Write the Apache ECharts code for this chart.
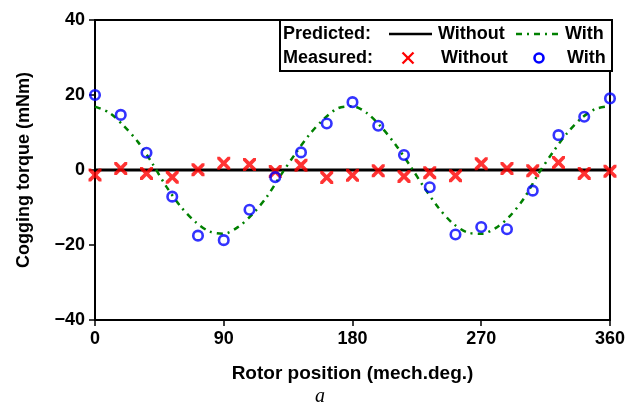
<!DOCTYPE html>
<html><head><meta charset="utf-8">
<script src="https://cdn.jsdelivr.net/npm/echarts@6/dist/echarts.min.js"></script>
<style>html,body{margin:0;padding:0;background:#fff}#c{width:628px;height:405px}</style>
</head><body><div id="c"></div>
<script>
// Measured positions (mech.deg.)
const measPos = [0,18,36,54,72,90,108,126,144,162,180,198,216,234,252,270,288,306,324,342,360];
const measWithout = [-1.3,0.4,-0.9,-1.9,0.1,1.8,1.5,-0.4,1.3,-2.0,-1.4,-0.2,-1.7,-0.7,-1.5,1.7,0.4,-0.2,2.0,-0.9,-0.3];
const measWith = [20.0,14.7,4.6,-7.1,-17.5,-18.7,-10.6,-1.9,4.7,12.4,18.1,11.8,4.0,-4.6,-17.2,-15.2,-15.8,-5.5,9.3,14.2,19.1];
// Predicted curves
const predPos = [0,10,20,30,40,50,60,70,80,90,100,110,120,130,140,150,160,170,180,190,200,210,220,230,240,250,260,270,280,290,300,310,320,330,340,350,360];
const predWith = [16.9,15.3,11.8,7.5,1.8,-4.5,-9.8,-13.8,-16.4,-17.0,-15.2,-11.8,-7.2,-1.3,4.3,9.5,13.6,16.5,17.0,15.2,11.5,6.8,1.3,-4.6,-10.0,-14.2,-16.6,-17.0,-15.5,-12.3,-7.5,-1.0,4.7,9.8,13.8,16.3,17.0];
const predWithoutPos = [0,360];
const predWithout = [0,0];
const xTicks = [0,90,180,270,360];
const yTicks = [-40,-20,0,20,40];

const zip = (a,b)=>a.map((v,i)=>[v,b[i]]);
const F = '"Liberation Sans", Arial, sans-serif';
const xPath = 'path://M0,0 L2,0 L5,3 L8,0 L10,0 L10,2 L7,5 L10,8 L10,10 L8,10 L5,7 L2,10 L0,10 L0,8 L3,5 L0,2 Z';

const chart = echarts.init(document.getElementById('c'), null, {renderer:'canvas'});
const legTxt = (x,y,t)=>({type:'text',x:x,y:y,style:{text:t,font:'bold 18px '+F,fill:'#000',verticalAlign:'middle',align:'left'},z:101});
chart.setOption({
  animation:false,
  backgroundColor:'#fff',
  grid:{left:95,right:16,top:20,bottom:85,show:true,borderColor:'#000',borderWidth:2,backgroundColor:'transparent'},
  xAxis:{type:'value',min:0,max:360,interval:90,
    axisLine:{show:true,onZero:false,lineStyle:{color:'#000',width:2}},
    axisTick:{show:true,inside:false,length:6,lineStyle:{color:'#000',width:1.5}},
    axisLabel:{color:'#000',fontFamily:F,fontWeight:'bold',fontSize:18,margin:10,
      formatter:v=>xTicks.includes(v)?String(v):''},
    splitLine:{show:false},
    name:'Rotor position (mech.deg.)',nameLocation:'middle',nameGap:44,
    nameTextStyle:{color:'#000',fontFamily:F,fontWeight:'bold',fontSize:19}},
  yAxis:{type:'value',min:-40,max:40,interval:20,
    axisLine:{show:true,onZero:false,lineStyle:{color:'#000',width:2}},
    axisTick:{show:true,inside:false,length:6,lineStyle:{color:'#000',width:1.5}},
    axisLabel:{color:'#000',fontFamily:F,fontWeight:'bold',fontSize:18,margin:10,
      formatter:v=>yTicks.includes(v)?String(v).replace('-','\u2212'):''},
    splitLine:{show:false},
    name:'Cogging torque (mNm)',nameLocation:'middle',nameGap:62,
    nameTextStyle:{color:'#000',fontFamily:F,fontWeight:'bold',fontSize:18}},
  series:[
    {name:'Predicted Without',type:'line',data:zip(predWithoutPos,predWithout),showSymbol:false,
      lineStyle:{color:'#000',width:3},z:3},
    {name:'Predicted With',type:'line',data:zip(predPos,predWith),showSymbol:false,smooth:0.3,
      lineStyle:{color:'#008000',width:2.5,type:[6,5,2,5]},z:3},
    {name:'Measured Without',type:'scatter',data:zip(measPos,measWithout),symbol:xPath,symbolSize:13,
      itemStyle:{color:'#ff0000'},z:5},
    {name:'Measured With',type:'scatter',data:zip(measPos,measWith),symbol:'circle',symbolSize:9.5,
      itemStyle:{color:'rgba(255,255,255,0)',borderColor:'#0000ff',borderWidth:2.6},z:6}
  ],
  graphic:[
    {type:'rect',shape:{x:280,y:20,width:332,height:51},style:{fill:'#fff',stroke:'#000',lineWidth:2},z:100},
    legTxt(283,34,'Predicted:'),
    {type:'line',shape:{x1:389,y1:34,x2:432,y2:34},style:{stroke:'#000',lineWidth:2.5},z:101},
    legTxt(438,34,'Without'),
    {type:'line',shape:{x1:516,y1:34,x2:558,y2:34},style:{stroke:'#008000',lineWidth:2.5,lineDash:[6,5,2,5]},z:101},
    legTxt(565,34,'With'),
    legTxt(283,58,'Measured:'),
    {type:'line',shape:{x1:402.5,y1:52.5,x2:413.5,y2:63.5},style:{stroke:'#ff0000',lineWidth:2.3},z:101},
    {type:'line',shape:{x1:413.5,y1:52.5,x2:402.5,y2:63.5},style:{stroke:'#ff0000',lineWidth:2.3},z:101},
    legTxt(441,58,'Without'),
    {type:'circle',shape:{cx:539,cy:58,r:4.5},style:{fill:'#fff',stroke:'#0000ff',lineWidth:2.6},z:101},
    legTxt(567,58,'With'),
    {type:'text',x:315,y:387,style:{text:'a',font:'italic 20px "Liberation Serif", "Times New Roman", serif',fill:'#000'}}
  ]
});
</script></body></html>
